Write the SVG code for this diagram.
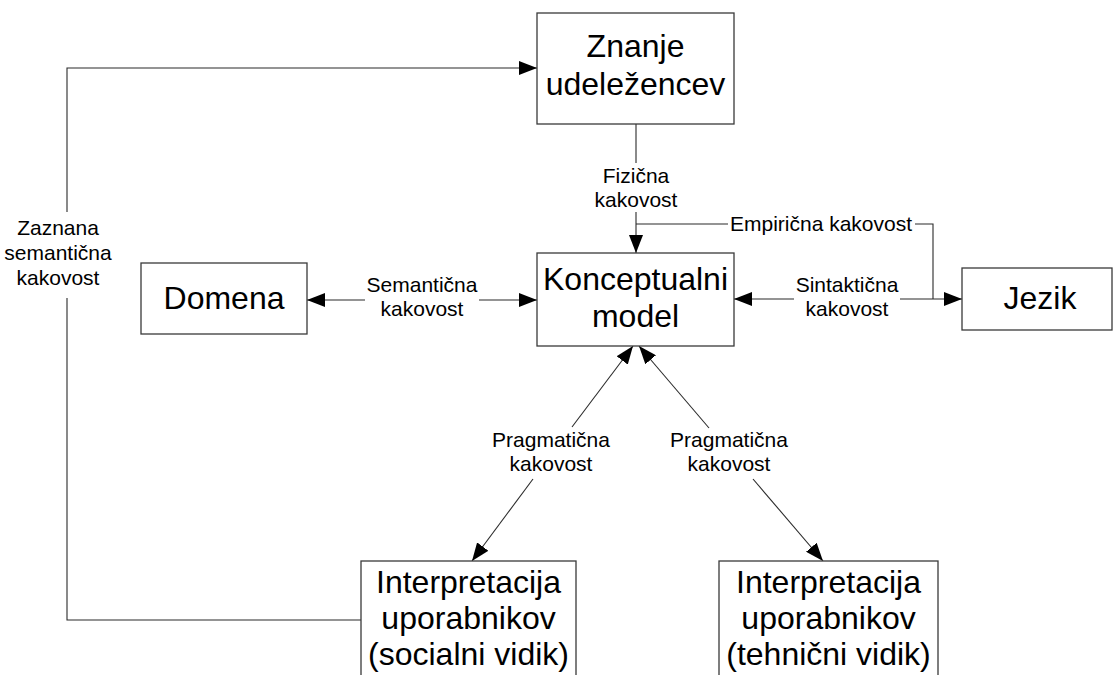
<svg xmlns="http://www.w3.org/2000/svg" width="1114" height="675" viewBox="0 0 1114 675">
  <style>
    .box { fill: #ffffff; stroke: #3a3a3a; stroke-width: 1.3; }
    .node { font-family: "Liberation Sans", Arial, sans-serif; font-size: 32px; fill: #000; text-anchor: middle; }
    .lbl { font-family: "Liberation Sans", Arial, sans-serif; font-size: 21px; fill: #000; text-anchor: middle; }
    .edge { fill: none; stroke: #2a2a2a; stroke-width: 1.1; }
    .arr { marker-end: url(#head); }
  </style>
  <defs>
    <marker id="head" viewBox="0 0 18 14" refX="18" refY="7" markerWidth="18" markerHeight="14" markerUnits="userSpaceOnUse" orient="auto">
      <path d="M0,0 L18,7 L0,14 z" fill="#000"/>
    </marker>
  </defs>

  <rect width="1114" height="675" fill="#ffffff"/>

  <!-- connectors -->
  <g id="connectors">
    <!-- physical quality: knowledge -> model -->
    <path class="edge" d="M636,124 V163"/>
    <path class="edge arr" d="M636,212 V253"/>
    <!-- empirical quality -->
    <path class="edge" d="M636,224 H728"/>
    <path class="edge" d="M915,224 H933 V299"/>
    <!-- syntactic quality -->
    <path class="edge arr" d="M794,299 H734"/>
    <path class="edge arr" d="M900,299 H962"/>
    <!-- semantic quality -->
    <path class="edge arr" d="M365,300 H307"/>
    <path class="edge arr" d="M479,300 H537"/>
    <!-- pragmatic quality (social) -->
    <path class="edge arr" d="M572,427 L633,346"/>
    <path class="edge arr" d="M533,479 L472,561"/>
    <!-- pragmatic quality (technical) -->
    <path class="edge arr" d="M709,428 L639,346"/>
    <path class="edge arr" d="M753,479 L823,561"/>
    <!-- perceived semantic quality -->
    <path class="edge" d="M361,620 H67 V298"/>
    <path class="edge arr" d="M67,212 V68 H537"/>
  </g>

  <!-- edge labels -->
  <g id="labels">
    <text class="lbl" x="636" y="183">Fizična</text>
    <text class="lbl" x="636" y="207">kakovost</text>
    <text class="lbl" x="821" y="231">Empirična kakovost</text>
    <text class="lbl" x="847" y="292">Sintaktična</text>
    <text class="lbl" x="847" y="316">kakovost</text>
    <text class="lbl" x="422" y="292">Semantična</text>
    <text class="lbl" x="422" y="316">kakovost</text>
    <text class="lbl" x="551" y="447">Pragmatična</text>
    <text class="lbl" x="551" y="471">kakovost</text>
    <text class="lbl" x="729" y="447">Pragmatična</text>
    <text class="lbl" x="729" y="471">kakovost</text>
    <text class="lbl" x="58" y="235">Zaznana</text>
    <text class="lbl" x="58" y="260">semantična</text>
    <text class="lbl" x="58" y="285">kakovost</text>
  </g>

  <g id="znanje">
    <rect class="box" x="537" y="13" width="197" height="111"/>
    <text class="node" x="635.5" y="57">Znanje</text>
    <text class="node" x="635.5" y="95">udeležencev</text>
  </g>

  <g id="domena">
    <rect class="box" x="141" y="263" width="166" height="71"/>
    <text class="node" x="224" y="309">Domena</text>
  </g>

  <g id="model">
    <rect class="box" x="537" y="253" width="197" height="93"/>
    <text class="node" x="635.5" y="290">Konceptualni</text>
    <text class="node" x="635.5" y="327">model</text>
  </g>

  <g id="jezik">
    <rect class="box" x="962" y="268" width="150" height="62"/>
    <text class="node" x="1040" y="309">Jezik</text>
  </g>

  <g id="socialni">
    <rect class="box" x="361" y="561" width="215" height="130"/>
    <text class="node" x="468.5" y="593">Interpretacija</text>
    <text class="node" x="468.5" y="629">uporabnikov</text>
    <text class="node" x="468.5" y="665">(socialni vidik)</text>
  </g>

  <g id="tehnicni">
    <rect class="box" x="719" y="561" width="219" height="130"/>
    <text class="node" x="828.5" y="593">Interpretacija</text>
    <text class="node" x="828.5" y="629">uporabnikov</text>
    <text class="node" x="828.5" y="665">(tehnični vidik)</text>
  </g>
</svg>
